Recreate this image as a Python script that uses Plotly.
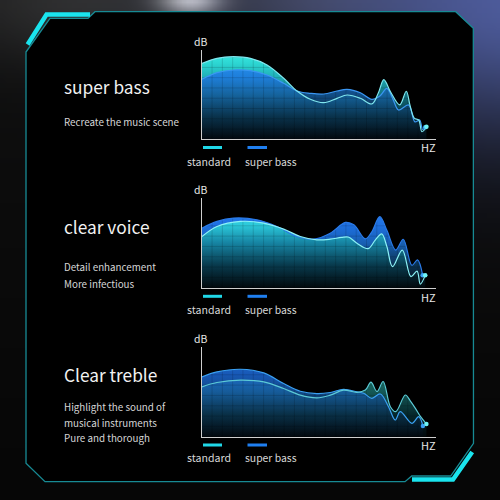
import numpy as np, zlib, struct, base64
import plotly.graph_objects as go

# ---------------- data (x: frequency position 0-100, y: level 0-100) -------------
x1_std = [0, 6.4, 13.5, 20.7, 27.8, 34.9, 40.6, 46.3, 52, 57.7, 62, 67.7, 72.6, 75.3, 77.7, 80.5, 84.5, 87.3, 88.9, 90.7, 92.6, 94.0, 95.9]
y1_std = [85, 90.7, 92.5, 90.7, 83.2, 68.3, 54.1, 44.8, 41, 45.9, 49.6, 45.9, 39.6, 51.5, 66.8, 53.4, 38.5, 53.8, 38, 23.8, 21.6, 8.5, 14]
x1_sb = [0, 6.4, 13.5, 20.7, 27.8, 34.9, 40.6, 46.3, 52, 57.7, 62, 67.7, 72.6, 76.0, 79.0, 81.6, 84.0, 88.3, 91.0, 93.0, 94.3, 95.4]
y1_sb = [67.2, 74.6, 77.6, 76.9, 72, 62.7, 54.1, 51.5, 50.7, 54.1, 56, 52.2, 44.8, 48.5, 57, 45, 32.8, 38.4, 19.5, 21.6, 11, 13.4]

x2_std = [0, 6.4, 16.4, 26.4, 34.9, 42, 49.1, 54.8, 59.5, 62.5, 66.2, 71.0, 74.1, 76.8, 79.0, 81.4, 85.6, 89.3, 91.9, 93.3, 95.4]
y2_std = [57.1, 68.3, 73.9, 72, 65.3, 57.1, 53.4, 54.1, 56, 56.5, 49.6, 43.6, 53.4, 60.0, 45.9, 23.4, 42, 12.3, 18.5, 4, 14]
x2_sb = [0, 6.4, 13.5, 23.5, 32, 40.6, 47.7, 54.8, 61.3, 64.9, 69.8, 72.5, 76.0, 79.0, 82.8, 86.0, 89.7, 92.1, 94.3]
y2_sb = [66.4, 73.9, 77.6, 75.7, 68.3, 57.1, 54.1, 60.8, 72.8, 70.1, 54.5, 62, 79.2, 64, 42, 54, 25, 31, 14]

x3_std = [0, 6.4, 16.4, 26.4, 34.9, 42, 49.1, 54.8, 60.5, 66.2, 69.8, 72.2, 74.8, 77.4, 80.5, 82.8, 86.9, 89.0, 91.2, 93.5, 95.9]
y3_std = [55.6, 60.4, 63, 61.1, 53.7, 46.3, 43.3, 46.3, 51.9, 49.5, 52, 60.8, 50.3, 61.5, 33.4, 27.9, 46.5, 40, 31.6, 22, 14.2]
x3_sb = [0, 6.4, 16.4, 26.4, 34.9, 42, 49.1, 54.8, 60.5, 66.2, 69.1, 72.6, 76.2, 79.7, 82.6, 84.7, 89.7, 92.6, 94.4]
y3_sb = [66.7, 72.2, 75.2, 71.1, 59.3, 50.7, 48.1, 49.3, 52.8, 50, 48.4, 42.8, 47.6, 33.4, 18.6, 27.9, 14.9, 22.3, 11.9]

titles = ["super bass", "clear voice", "Clear treble"]
subtitles = [["Recreate the music scene"],
             ["Detail enhancement", "More infectious"],
             ["Highlight the sound of", "musical instruments", "Pure and thorough"]]
legend_names = ["standard", "super bass"]

FONT = "Noto Sans CJK SC"
W = H = 500

def px(x):
    return x / W

def py(y):
    return 1 - y / H

# ---------------- background image (soft photo-like gradient) -------------
n = 100
gy, gx = np.mgrid[0:n, 0:n]
cx = (gx + 0.5) * W / n
cy = (gy + 0.5) * H / n
img = (16 - 10 * cy / H)[..., None] * np.ones(3)

def blob(x0, y0, sx, sy, col):
    global img
    g = np.exp(-((cx - x0) ** 2 / (2 * sx ** 2) + (cy - y0) ** 2 / (2 * sy ** 2)))
    img = img + g[..., None] * np.array(col, dtype=float)

blob(190, -4, 22, 14, (150, 150, 150))
blob(80, 0, 100, 45, (30, 30, 30))
blob(300, 0, 70, 30, (22, 22, 26))
blob(530, 0, 170, 95, (62, 76, 140))
img = np.clip(img, 0, 255).astype(np.uint8)

def png_uri(a):
    h, w, _ = a.shape
    raw = b"".join(b"\x00" + a[r].tobytes() for r in range(h))
    def chunk(t, d):
        return struct.pack(">I", len(d)) + t + d + struct.pack(">I", zlib.crc32(t + d) & 0xffffffff)
    data = (b"\x89PNG\r\n\x1a\n" + chunk(b"IHDR", struct.pack(">IIBBBBB", w, h, 8, 2, 0, 0, 0))
            + chunk(b"IDAT", zlib.compress(raw, 9)) + chunk(b"IEND", b""))
    return "data:image/png;base64," + base64.b64encode(data).decode()

# ---------------- figure -------------
fig = go.Figure()

charts = [
    dict(xs=x1_std, ys=y1_std, xb=x1_sb, yb=y1_sb, top=50, bottom=139.3, order="B_over_A",
         a_scale=[[0, "rgba(2,9,13,1)"], [0.25, "rgba(6,48,60,1)"], [0.5, "rgba(17,112,127,1)"],
                  [0.7, "rgba(32,176,184,1)"], [0.85, "rgba(44,214,210,1)"], [1, "rgba(63,240,232,1)"]],
         b_scale=[[0, "rgba(2,8,14,0.85)"], [0.25, "rgba(10,50,78,0.8)"], [0.5, "rgba(22,96,165,0.8)"],
                  [0.7, "rgba(30,118,225,0.85)"], [1, "rgba(44,146,252,0.9)"]],
         a_line="#7fe6ee", b_line="#3a96f2"),
    dict(xs=x2_std, ys=y2_std, xb=x2_sb, yb=y2_sb, top=198, bottom=287.7, order="A_over_B",
         a_scale=[[0, "rgba(2,9,13,0.95)"], [0.25, "rgba(8,58,76,0.95)"], [0.5, "rgba(22,134,162,0.95)"],
                  [0.7, "rgba(44,206,218,0.95)"], [1, "rgba(80,245,245,0.95)"]],
         b_scale=[[0, "rgba(2,8,14,1)"], [0.25, "rgba(10,50,80,1)"], [0.5, "rgba(24,96,180,1)"],
                  [0.7, "rgba(30,112,225,1)"], [1, "rgba(44,140,250,1)"]],
         a_line="#8cf2f6", b_line="#2a7ae8"),
    dict(xs=x3_std, ys=y3_std, xb=x3_sb, yb=y3_sb, top=347, bottom=436.7, order="B_over_A",
         a_scale=[[0, "rgba(2,9,12,1)"], [0.25, "rgba(6,40,44,1)"], [0.5, "rgba(20,88,86,1)"],
                  [0.7, "rgba(30,120,108,1)"], [1, "rgba(50,160,140,1)"]],
         b_scale=[[0, "rgba(2,8,14,0.85)"], [0.25, "rgba(10,50,78,0.8)"], [0.5, "rgba(22,92,170,0.8)"],
                  [0.7, "rgba(28,104,215,0.85)"], [1, "rgba(44,140,250,0.9)"]],
         a_line="#5ccad6", b_line="#3aa0f2"),
]

X0, X1 = 202, 436
layout_axes = {}
for i, c in enumerate(charts):
    k = "" if i == 0 else str(i + 1)
    xa, ya = "x" + k, "y" + k

    def fill_trace(xv, yv, scale):
        return go.Scatter(x=xv, y=yv, mode="lines", line=dict(shape="spline", smoothing=1.0, width=0.5, color="rgba(0,0,0,0)"),
                          fill="tozeroy",
                          fillgradient=dict(type="vertical", colorscale=scale, start=0, stop=100),
                          xaxis=xa, yaxis=ya, hoverinfo="skip", showlegend=False)

    fa = fill_trace(c["xs"], c["ys"], c["a_scale"])
    fb = fill_trace(c["xb"], c["yb"], c["b_scale"])
    if c["order"] == "B_over_A":
        fig.add_trace(fa); fig.add_trace(fb)
    else:
        fig.add_trace(fb); fig.add_trace(fa)

    # faint grid visible only over the filled area
    gxs, gys = [], []
    for v in np.arange(4.3, 100, 4.4):
        gxs += [v, v, None]; gys += [0, 100, None]
    for v in np.arange(11.5, 100, 11.5):
        gxs += [0, 100, None]; gys += [v, v, None]
    fig.add_trace(go.Scatter(x=gxs, y=gys, mode="lines", line=dict(color="rgba(0,0,0,0.14)", width=1),
                             xaxis=xa, yaxis=ya, hoverinfo="skip", showlegend=False))

    # curves
    fig.add_trace(go.Scatter(x=c["xb"], y=c["yb"], mode="lines", line=dict(shape="spline", smoothing=1.0, width=1.2, color=c["b_line"]),
                             xaxis=xa, yaxis=ya, hoverinfo="skip", showlegend=False))
    fig.add_trace(go.Scatter(x=c["xs"], y=c["ys"], mode="lines", line=dict(shape="spline", smoothing=1.0, width=1.2, color=c["a_line"]),
                             xaxis=xa, yaxis=ya, hoverinfo="skip", showlegend=False))
    # end dots
    fig.add_trace(go.Scatter(x=[c["xb"][-1]], y=[c["yb"][-1]], mode="markers", marker=dict(size=4.5, color="#3aa0f5"),
                             xaxis=xa, yaxis=ya, hoverinfo="skip", showlegend=False))
    fig.add_trace(go.Scatter(x=[c["xs"][-1]], y=[c["ys"][-1]], mode="markers", marker=dict(size=4.5, color="#6ff4f4"),
                             xaxis=xa, yaxis=ya, hoverinfo="skip", showlegend=False))

    common = dict(showgrid=False, zeroline=False, showticklabels=False, ticks="", showline=True,
                  linecolor="#cfcfcf", linewidth=1, fixedrange=True)
    layout_axes["xaxis" + k] = dict(common, range=[0, 100], domain=[px(X0), px(X1)], anchor=ya)
    layout_axes["yaxis" + k] = dict(common, range=[0, 100], domain=[py(c["bottom"]), py(c["top"])], anchor=xa)

fig.update_layout(**layout_axes)

# ---------------- frame shapes -------------
def path(points, close=False):
    s = "M " + " L ".join(f"{px(x):.5f},{py(y):.5f}" for x, y in points)
    return s + (" Z" if close else "")

frame = [(26, 52), (50, 18.3), (88, 18.3), (95, 11.7), (455.7, 11.7), (473.3, 28.3), (473.5, 443.3),
         (450.7, 476), (411.7, 476), (405, 481.7), (45, 481.7), (26, 463.3)]
shapes = [
    dict(type="path", xref="paper", yref="paper", path=path(frame, True), fillcolor="#000000",
         line=dict(color="#178a94", width=1.3), layer="below"),
    dict(type="path", xref="paper", yref="paper", path=path([(27.6, 44.5), (46.5, 14.6), (90, 14.6)]),
         line=dict(color="#1ae4ee", width=4.5), layer="below"),
    dict(type="path", xref="paper", yref="paper", path=path([(412, 479.6), (453, 479.6), (472.2, 452)]),
         line=dict(color="#1ae4ee", width=4.5), layer="below"),
]

# legend swatches
leg_y = [147.5, 296.3, 445]
for ly in leg_y:
    shapes.append(dict(type="line", xref="paper", yref="paper", x0=px(203), x1=px(222), y0=py(ly), y1=py(ly),
                       line=dict(color="#20d8e8", width=3)))
    shapes.append(dict(type="line", xref="paper", yref="paper", x0=px(247.5), x1=px(267), y0=py(ly), y1=py(ly),
                       line=dict(color="#1f7ff0", width=3)))

# ---------------- text -------------
ann = []
def text(t, x, y, size, color, anchor="left"):
    ann.append(dict(text=t, x=px(x), y=py(y), xref="paper", yref="paper", showarrow=False,
                    xanchor=anchor, yanchor="middle", font=dict(family=FONT, size=size, color=color)))

title_y = [87, 226.7, 374]
sub_y = [[121.5], [267.3, 284], [407, 422.5, 438]]
for i in range(3):
    text(titles[i], 62, title_y[i], 17.3, "#f2f2f2")
    for s, yy in zip(subtitles[i], sub_y[i]):
        text(s, 62, yy, 9.8, "#d6d6d6")

db_y = [41.7, 189.3, 338.3]
hz_y = [147.3, 297, 445]
lt_y = [161, 309.5, 457.5]
for i in range(3):
    text("dB", 201, db_y[i], 10.5, "#e6e6e6", "center")
    text("HZ", 428, hz_y[i], 11, "#e6e6e6", "center")
    text(legend_names[0], 208.5, lt_y[i], 10.6, "#d8d8d8", "center")
    text(legend_names[1], 270.5, lt_y[i], 10.4, "#d8d8d8", "center")

fig.update_layout(
    width=W, height=H, margin=dict(l=0, r=0, t=0, b=0),
    paper_bgcolor="#080808", plot_bgcolor="rgba(0,0,0,0)",
    shapes=shapes, annotations=ann, showlegend=False,
    images=[dict(source=png_uri(img), xref="paper", yref="paper", x=0, y=1, sizex=1, sizey=1,
                 sizing="stretch", xanchor="left", yanchor="top", layer="below")],
)

fig.write_html("out.html", config={"displayModeBar": False},
               post_script="document.body.style.margin='0';document.body.style.padding='0';")
